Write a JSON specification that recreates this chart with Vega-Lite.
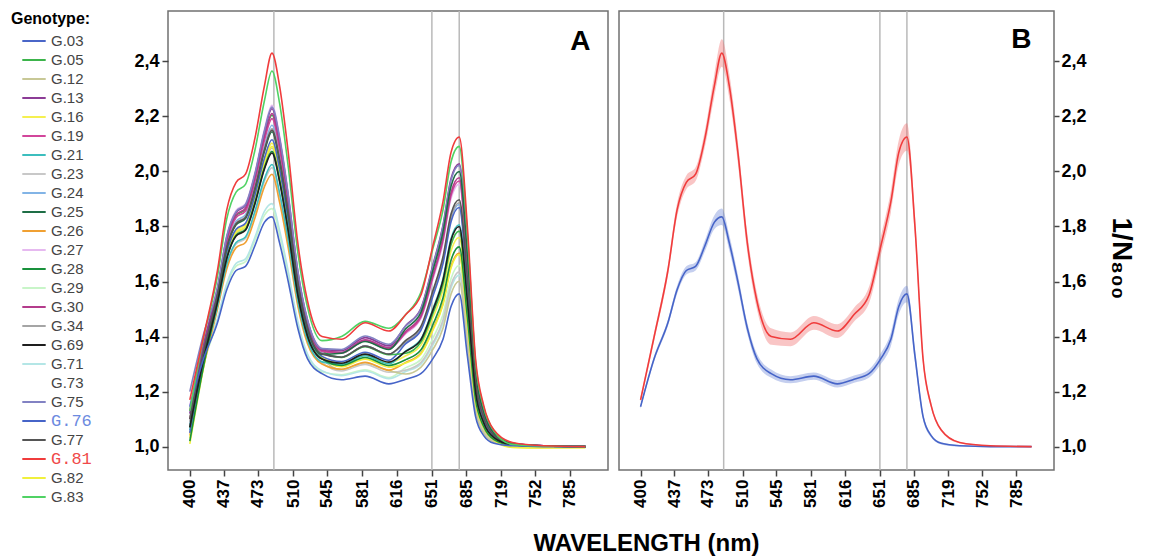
{
"$schema": "https://vega.github.io/schema/vega-lite/v6.json",
"background": "white",
"padding": {"left": 11, "top": 9, "right": 5, "bottom": 5},
"config": {
  "font": "Liberation Sans",
  "view": {"stroke": "#707070", "strokeWidth": 1.5},
  "axis": {"grid": false, "domain": false, "labelFont": "Liberation Sans", "labelFontWeight": "bold", "labelColor": "#000", "tickColor": "#444", "tickWidth": 1.5, "tickSize": 6, "labelPadding": 3, "titleFont": "Liberation Sans", "labelOverlap": false},
  "axisX": {"labelFontSize": 17},
  "axisY": {"labelFontSize": 18},
  "legend": {"titleFont": "Liberation Sans", "labelFont": "Liberation Sans"}
},
"datasets": {
  "refs": [{"wl": 490}, {"wl": 651}, {"wl": 678}],
  "spectra": [
{"g":"G.29","wl":400,"v":1.10},{"g":"G.29","wl":415,"v":1.30},{"g":"G.29","wl":430,"v":1.46},{"g":"G.29","wl":440,"v":1.585},{"g":"G.29","wl":450,"v":1.656},{"g":"G.29","wl":460,"v":1.672},{"g":"G.29","wl":470,"v":1.75},{"g":"G.29","wl":480,"v":1.84},{"g":"G.29","wl":488,"v":1.865},{"g":"G.29","wl":496,"v":1.769},{"g":"G.29","wl":505,"v":1.624},{"g":"G.29","wl":515,"v":1.446},{"g":"G.29","wl":525,"v":1.331},{"g":"G.29","wl":540,"v":1.272},{"g":"G.29","wl":560,"v":1.261},{"g":"G.29","wl":584,"v":1.279},{"g":"G.29","wl":608,"v":1.251},{"g":"G.29","wl":625,"v":1.287},{"g":"G.29","wl":640,"v":1.316},{"g":"G.29","wl":652,"v":1.394},{"g":"G.29","wl":662,"v":1.48},{"g":"G.29","wl":670,"v":1.611},{"g":"G.29","wl":678,"v":1.658},{"g":"G.29","wl":686,"v":1.415},{"g":"G.29","wl":694,"v":1.148},{"g":"G.29","wl":702,"v":1.06},{"g":"G.29","wl":712,"v":1.021},{"g":"G.29","wl":730,"v":1.004},{"g":"G.29","wl":760,"v":1.001},{"g":"G.29","wl":800,"v":1.0},
{"g":"G.71","wl":400,"v":1.12},{"g":"G.71","wl":415,"v":1.313},{"g":"G.71","wl":430,"v":1.465},{"g":"G.71","wl":440,"v":1.593},{"g":"G.71","wl":450,"v":1.666},{"g":"G.71","wl":460,"v":1.682},{"g":"G.71","wl":470,"v":1.761},{"g":"G.71","wl":480,"v":1.855},{"g":"G.71","wl":488,"v":1.883},{"g":"G.71","wl":496,"v":1.786},{"g":"G.71","wl":505,"v":1.638},{"g":"G.71","wl":515,"v":1.455},{"g":"G.71","wl":525,"v":1.337},{"g":"G.71","wl":540,"v":1.276},{"g":"G.71","wl":560,"v":1.258},{"g":"G.71","wl":584,"v":1.275},{"g":"G.71","wl":608,"v":1.247},{"g":"G.71","wl":625,"v":1.273},{"g":"G.71","wl":640,"v":1.299},{"g":"G.71","wl":652,"v":1.369},{"g":"G.71","wl":662,"v":1.45},{"g":"G.71","wl":670,"v":1.577},{"g":"G.71","wl":678,"v":1.623},{"g":"G.71","wl":686,"v":1.386},{"g":"G.71","wl":694,"v":1.135},{"g":"G.71","wl":702,"v":1.053},{"g":"G.71","wl":712,"v":1.018},{"g":"G.71","wl":730,"v":1.004},{"g":"G.71","wl":760,"v":1.001},{"g":"G.71","wl":800,"v":1.0},
{"g":"G.23","wl":400,"v":1.05},{"g":"G.23","wl":415,"v":1.299},{"g":"G.23","wl":430,"v":1.507},{"g":"G.23","wl":440,"v":1.657},{"g":"G.23","wl":450,"v":1.736},{"g":"G.23","wl":460,"v":1.756},{"g":"G.23","wl":470,"v":1.847},{"g":"G.23","wl":480,"v":1.964},{"g":"G.23","wl":488,"v":2.014},{"g":"G.23","wl":496,"v":1.911},{"g":"G.23","wl":505,"v":1.741},{"g":"G.23","wl":515,"v":1.523},{"g":"G.23","wl":525,"v":1.383},{"g":"G.23","wl":540,"v":1.306},{"g":"G.23","wl":560,"v":1.275},{"g":"G.23","wl":584,"v":1.299},{"g":"G.23","wl":608,"v":1.27},{"g":"G.23","wl":625,"v":1.278},{"g":"G.23","wl":640,"v":1.305},{"g":"G.23","wl":652,"v":1.377},{"g":"G.23","wl":662,"v":1.46},{"g":"G.23","wl":670,"v":1.588},{"g":"G.23","wl":678,"v":1.635},{"g":"G.23","wl":686,"v":1.396},{"g":"G.23","wl":694,"v":1.139},{"g":"G.23","wl":702,"v":1.055},{"g":"G.23","wl":712,"v":1.019},{"g":"G.23","wl":730,"v":1.004},{"g":"G.23","wl":760,"v":1.001},{"g":"G.23","wl":800,"v":1.0},
{"g":"G.12","wl":400,"v":1.08},{"g":"G.12","wl":415,"v":1.325},{"g":"G.12","wl":430,"v":1.53},{"g":"G.12","wl":440,"v":1.692},{"g":"G.12","wl":450,"v":1.774},{"g":"G.12","wl":460,"v":1.796},{"g":"G.12","wl":470,"v":1.894},{"g":"G.12","wl":480,"v":2.023},{"g":"G.12","wl":488,"v":2.085},{"g":"G.12","wl":496,"v":1.979},{"g":"G.12","wl":505,"v":1.797},{"g":"G.12","wl":515,"v":1.56},{"g":"G.12","wl":525,"v":1.408},{"g":"G.12","wl":540,"v":1.322},{"g":"G.12","wl":560,"v":1.28},{"g":"G.12","wl":584,"v":1.305},{"g":"G.12","wl":608,"v":1.276},{"g":"G.12","wl":625,"v":1.264},{"g":"G.12","wl":640,"v":1.288},{"g":"G.12","wl":652,"v":1.353},{"g":"G.12","wl":662,"v":1.43},{"g":"G.12","wl":670,"v":1.555},{"g":"G.12","wl":678,"v":1.601},{"g":"G.12","wl":686,"v":1.368},{"g":"G.12","wl":694,"v":1.127},{"g":"G.12","wl":702,"v":1.049},{"g":"G.12","wl":712,"v":1.016},{"g":"G.12","wl":730,"v":1.004},{"g":"G.12","wl":760,"v":1.001},{"g":"G.12","wl":800,"v":1.0},
{"g":"G.27","wl":400,"v":1.15},{"g":"G.27","wl":415,"v":1.383},{"g":"G.27","wl":430,"v":1.579},{"g":"G.27","wl":440,"v":1.767},{"g":"G.27","wl":450,"v":1.858},{"g":"G.27","wl":460,"v":1.883},{"g":"G.27","wl":470,"v":1.995},{"g":"G.27","wl":480,"v":2.152},{"g":"G.27","wl":488,"v":2.24},{"g":"G.27","wl":496,"v":2.128},{"g":"G.27","wl":505,"v":1.92},{"g":"G.27","wl":515,"v":1.641},{"g":"G.27","wl":525,"v":1.463},{"g":"G.27","wl":540,"v":1.357},{"g":"G.27","wl":560,"v":1.343},{"g":"G.27","wl":584,"v":1.388},{"g":"G.27","wl":608,"v":1.359},{"g":"G.27","wl":625,"v":1.41},{"g":"G.27","wl":640,"v":1.465},{"g":"G.27","wl":652,"v":1.607},{"g":"G.27","wl":662,"v":1.74},{"g":"G.27","wl":670,"v":1.902},{"g":"G.27","wl":678,"v":1.954},{"g":"G.27","wl":686,"v":1.659},{"g":"G.27","wl":694,"v":1.257},{"g":"G.27","wl":702,"v":1.117},{"g":"G.27","wl":712,"v":1.046},{"g":"G.27","wl":730,"v":1.01},{"g":"G.27","wl":760,"v":1.003},{"g":"G.27","wl":800,"v":1.0},
{"g":"G.24","wl":400,"v":1.08},{"g":"G.24","wl":415,"v":1.338},{"g":"G.24","wl":430,"v":1.556},{"g":"G.24","wl":440,"v":1.732},{"g":"G.24","wl":450,"v":1.819},{"g":"G.24","wl":460,"v":1.843},{"g":"G.24","wl":470,"v":1.948},{"g":"G.24","wl":480,"v":2.092},{"g":"G.24","wl":488,"v":2.168},{"g":"G.24","wl":496,"v":2.059},{"g":"G.24","wl":505,"v":1.863},{"g":"G.24","wl":515,"v":1.604},{"g":"G.24","wl":525,"v":1.438},{"g":"G.24","wl":540,"v":1.341},{"g":"G.24","wl":560,"v":1.325},{"g":"G.24","wl":584,"v":1.365},{"g":"G.24","wl":608,"v":1.336},{"g":"G.24","wl":625,"v":1.379},{"g":"G.24","wl":640,"v":1.428},{"g":"G.24","wl":652,"v":1.554},{"g":"G.24","wl":662,"v":1.675},{"g":"G.24","wl":670,"v":1.829},{"g":"G.24","wl":678,"v":1.88},{"g":"G.24","wl":686,"v":1.598},{"g":"G.24","wl":694,"v":1.23},{"g":"G.24","wl":702,"v":1.103},{"g":"G.24","wl":712,"v":1.039},{"g":"G.24","wl":730,"v":1.008},{"g":"G.24","wl":760,"v":1.002},{"g":"G.24","wl":800,"v":1.0},
{"g":"G.26","wl":400,"v":1.04},{"g":"G.26","wl":415,"v":1.29},{"g":"G.26","wl":430,"v":1.499},{"g":"G.26","wl":440,"v":1.645},{"g":"G.26","wl":450,"v":1.723},{"g":"G.26","wl":460,"v":1.742},{"g":"G.26","wl":470,"v":1.831},{"g":"G.26","wl":480,"v":1.944},{"g":"G.26","wl":488,"v":1.99},{"g":"G.26","wl":496,"v":1.888},{"g":"G.26","wl":505,"v":1.722},{"g":"G.26","wl":515,"v":1.511},{"g":"G.26","wl":525,"v":1.375},{"g":"G.26","wl":540,"v":1.30},{"g":"G.26","wl":560,"v":1.281},{"g":"G.26","wl":584,"v":1.306},{"g":"G.26","wl":608,"v":1.278},{"g":"G.26","wl":625,"v":1.306},{"g":"G.26","wl":640,"v":1.339},{"g":"G.26","wl":652,"v":1.427},{"g":"G.26","wl":662,"v":1.52},{"g":"G.26","wl":670,"v":1.656},{"g":"G.26","wl":678,"v":1.703},{"g":"G.26","wl":686,"v":1.452},{"g":"G.26","wl":694,"v":1.165},{"g":"G.26","wl":702,"v":1.069},{"g":"G.26","wl":712,"v":1.025},{"g":"G.26","wl":730,"v":1.006},{"g":"G.26","wl":760,"v":1.002},{"g":"G.26","wl":800,"v":1.0},
{"g":"G.16","wl":400,"v":1.03},{"g":"G.16","wl":415,"v":1.303},{"g":"G.16","wl":430,"v":1.536},{"g":"G.16","wl":440,"v":1.70},{"g":"G.16","wl":450,"v":1.784},{"g":"G.16","wl":460,"v":1.806},{"g":"G.16","wl":470,"v":1.906},{"g":"G.16","wl":480,"v":2.038},{"g":"G.16","wl":488,"v":2.103},{"g":"G.16","wl":496,"v":1.997},{"g":"G.16","wl":505,"v":1.812},{"g":"G.16","wl":515,"v":1.57},{"g":"G.16","wl":525,"v":1.415},{"g":"G.16","wl":540,"v":1.326},{"g":"G.16","wl":560,"v":1.302},{"g":"G.16","wl":584,"v":1.334},{"g":"G.16","wl":608,"v":1.305},{"g":"G.16","wl":625,"v":1.33},{"g":"G.16","wl":640,"v":1.368},{"g":"G.16","wl":652,"v":1.468},{"g":"G.16","wl":662,"v":1.57},{"g":"G.16","wl":670,"v":1.712},{"g":"G.16","wl":678,"v":1.76},{"g":"G.16","wl":686,"v":1.499},{"g":"G.16","wl":694,"v":1.186},{"g":"G.16","wl":702,"v":1.08},{"g":"G.16","wl":712,"v":1.029},{"g":"G.16","wl":730,"v":0.998},{"g":"G.16","wl":760,"v":0.996},{"g":"G.16","wl":800,"v":0.997},
{"g":"G.82","wl":400,"v":1.01},{"g":"G.82","wl":415,"v":1.288},{"g":"G.82","wl":430,"v":1.532},{"g":"G.82","wl":440,"v":1.695},{"g":"G.82","wl":450,"v":1.778},{"g":"G.82","wl":460,"v":1.799},{"g":"G.82","wl":470,"v":1.898},{"g":"G.82","wl":480,"v":2.028},{"g":"G.82","wl":488,"v":2.091},{"g":"G.82","wl":496,"v":1.985},{"g":"G.82","wl":505,"v":1.802},{"g":"G.82","wl":515,"v":1.563},{"g":"G.82","wl":525,"v":1.41},{"g":"G.82","wl":540,"v":1.323},{"g":"G.82","wl":560,"v":1.29},{"g":"G.82","wl":584,"v":1.318},{"g":"G.82","wl":608,"v":1.289},{"g":"G.82","wl":625,"v":1.304},{"g":"G.82","wl":640,"v":1.336},{"g":"G.82","wl":652,"v":1.423},{"g":"G.82","wl":662,"v":1.515},{"g":"G.82","wl":670,"v":1.65},{"g":"G.82","wl":678,"v":1.698},{"g":"G.82","wl":686,"v":1.448},{"g":"G.82","wl":694,"v":1.163},{"g":"G.82","wl":702,"v":1.068},{"g":"G.82","wl":712,"v":1.024},{"g":"G.82","wl":730,"v":0.997},{"g":"G.82","wl":760,"v":0.995},{"g":"G.82","wl":800,"v":0.996},
{"g":"G.21","wl":400,"v":1.06},{"g":"G.21","wl":415,"v":1.306},{"g":"G.21","wl":430,"v":1.511},{"g":"G.21","wl":440,"v":1.663},{"g":"G.21","wl":450,"v":1.742},{"g":"G.21","wl":460,"v":1.762},{"g":"G.21","wl":470,"v":1.855},{"g":"G.21","wl":480,"v":1.973},{"g":"G.21","wl":488,"v":2.025},{"g":"G.21","wl":496,"v":1.922},{"g":"G.21","wl":505,"v":1.75},{"g":"G.21","wl":515,"v":1.529},{"g":"G.21","wl":525,"v":1.387},{"g":"G.21","wl":540,"v":1.308},{"g":"G.21","wl":560,"v":1.299},{"g":"G.21","wl":584,"v":1.33},{"g":"G.21","wl":608,"v":1.301},{"g":"G.21","wl":625,"v":1.348},{"g":"G.21","wl":640,"v":1.39},{"g":"G.21","wl":652,"v":1.50},{"g":"G.21","wl":662,"v":1.61},{"g":"G.21","wl":670,"v":1.756},{"g":"G.21","wl":678,"v":1.806},{"g":"G.21","wl":686,"v":1.537},{"g":"G.21","wl":694,"v":1.202},{"g":"G.21","wl":702,"v":1.088},{"g":"G.21","wl":712,"v":1.033},{"g":"G.21","wl":730,"v":1.007},{"g":"G.21","wl":760,"v":1.002},{"g":"G.21","wl":800,"v":1.0},
{"g":"G.34","wl":400,"v":1.09},{"g":"G.34","wl":415,"v":1.342},{"g":"G.34","wl":430,"v":1.553},{"g":"G.34","wl":440,"v":1.727},{"g":"G.34","wl":450,"v":1.813},{"g":"G.34","wl":460,"v":1.836},{"g":"G.34","wl":470,"v":1.941},{"g":"G.34","wl":480,"v":2.082},{"g":"G.34","wl":488,"v":2.156},{"g":"G.34","wl":496,"v":2.048},{"g":"G.34","wl":505,"v":1.854},{"g":"G.34","wl":515,"v":1.597},{"g":"G.34","wl":525,"v":1.433},{"g":"G.34","wl":540,"v":1.338},{"g":"G.34","wl":560,"v":1.325},{"g":"G.34","wl":584,"v":1.365},{"g":"G.34","wl":608,"v":1.336},{"g":"G.34","wl":625,"v":1.381},{"g":"G.34","wl":640,"v":1.43},{"g":"G.34","wl":652,"v":1.558},{"g":"G.34","wl":662,"v":1.68},{"g":"G.34","wl":670,"v":1.835},{"g":"G.34","wl":678,"v":1.886},{"g":"G.34","wl":686,"v":1.603},{"g":"G.34","wl":694,"v":1.232},{"g":"G.34","wl":702,"v":1.104},{"g":"G.34","wl":712,"v":1.04},{"g":"G.34","wl":730,"v":1.008},{"g":"G.34","wl":760,"v":1.002},{"g":"G.34","wl":800,"v":1.0},
{"g":"G.03","wl":400,"v":1.05},{"g":"G.03","wl":415,"v":1.315},{"g":"G.03","wl":430,"v":1.539},{"g":"G.03","wl":440,"v":1.706},{"g":"G.03","wl":450,"v":1.79},{"g":"G.03","wl":460,"v":1.812},{"g":"G.03","wl":470,"v":1.913},{"g":"G.03","wl":480,"v":2.048},{"g":"G.03","wl":488,"v":2.115},{"g":"G.03","wl":496,"v":2.008},{"g":"G.03","wl":505,"v":1.821},{"g":"G.03","wl":515,"v":1.576},{"g":"G.03","wl":525,"v":1.419},{"g":"G.03","wl":540,"v":1.328},{"g":"G.03","wl":560,"v":1.309},{"g":"G.03","wl":584,"v":1.343},{"g":"G.03","wl":608,"v":1.314},{"g":"G.03","wl":625,"v":1.374},{"g":"G.03","wl":640,"v":1.422},{"g":"G.03","wl":652,"v":1.546},{"g":"G.03","wl":662,"v":1.665},{"g":"G.03","wl":670,"v":1.818},{"g":"G.03","wl":678,"v":1.869},{"g":"G.03","wl":686,"v":1.589},{"g":"G.03","wl":694,"v":1.226},{"g":"G.03","wl":702,"v":1.101},{"g":"G.03","wl":712,"v":1.038},{"g":"G.03","wl":730,"v":1.009},{"g":"G.03","wl":760,"v":1.002},{"g":"G.03","wl":800,"v":1.0},
{"g":"G.28","wl":400,"v":1.02},{"g":"G.28","wl":415,"v":1.293},{"g":"G.28","wl":430,"v":1.526},{"g":"G.28","wl":440,"v":1.686},{"g":"G.28","wl":450,"v":1.768},{"g":"G.28","wl":460,"v":1.789},{"g":"G.28","wl":470,"v":1.886},{"g":"G.28","wl":480,"v":2.013},{"g":"G.28","wl":488,"v":2.073},{"g":"G.28","wl":496,"v":1.968},{"g":"G.28","wl":505,"v":1.788},{"g":"G.28","wl":515,"v":1.554},{"g":"G.28","wl":525,"v":1.404},{"g":"G.28","wl":540,"v":1.319},{"g":"G.28","wl":560,"v":1.295},{"g":"G.28","wl":584,"v":1.324},{"g":"G.28","wl":608,"v":1.295},{"g":"G.28","wl":625,"v":1.316},{"g":"G.28","wl":640,"v":1.351},{"g":"G.28","wl":652,"v":1.443},{"g":"G.28","wl":662,"v":1.54},{"g":"G.28","wl":670,"v":1.678},{"g":"G.28","wl":678,"v":1.726},{"g":"G.28","wl":686,"v":1.471},{"g":"G.28","wl":694,"v":1.173},{"g":"G.28","wl":702,"v":1.073},{"g":"G.28","wl":712,"v":1.026},{"g":"G.28","wl":730,"v":1.006},{"g":"G.28","wl":760,"v":1.002},{"g":"G.28","wl":800,"v":1.0},
{"g":"G.05","wl":400,"v":1.10},{"g":"G.05","wl":415,"v":1.354},{"g":"G.05","wl":430,"v":1.568},{"g":"G.05","wl":440,"v":1.75},{"g":"G.05","wl":450,"v":1.838},{"g":"G.05","wl":460,"v":1.863},{"g":"G.05","wl":470,"v":1.972},{"g":"G.05","wl":480,"v":2.122},{"g":"G.05","wl":488,"v":2.204},{"g":"G.05","wl":496,"v":2.093},{"g":"G.05","wl":505,"v":1.891},{"g":"G.05","wl":515,"v":1.622},{"g":"G.05","wl":525,"v":1.45},{"g":"G.05","wl":540,"v":1.349},{"g":"G.05","wl":560,"v":1.324},{"g":"G.05","wl":584,"v":1.363},{"g":"G.05","wl":608,"v":1.334},{"g":"G.05","wl":625,"v":1.339},{"g":"G.05","wl":640,"v":1.379},{"g":"G.05","wl":652,"v":1.484},{"g":"G.05","wl":662,"v":1.59},{"g":"G.05","wl":670,"v":1.734},{"g":"G.05","wl":678,"v":1.783},{"g":"G.05","wl":686,"v":1.518},{"g":"G.05","wl":694,"v":1.194},{"g":"G.05","wl":702,"v":1.084},{"g":"G.05","wl":712,"v":1.031},{"g":"G.05","wl":730,"v":1.007},{"g":"G.05","wl":760,"v":1.002},{"g":"G.05","wl":800,"v":1.0},
{"g":"G.19","wl":400,"v":1.10},{"g":"G.19","wl":415,"v":1.352},{"g":"G.19","wl":430,"v":1.564},{"g":"G.19","wl":440,"v":1.744},{"g":"G.19","wl":450,"v":1.832},{"g":"G.19","wl":460,"v":1.856},{"g":"G.19","wl":470,"v":1.964},{"g":"G.19","wl":480,"v":2.112},{"g":"G.19","wl":488,"v":2.192},{"g":"G.19","wl":496,"v":2.082},{"g":"G.19","wl":505,"v":1.882},{"g":"G.19","wl":515,"v":1.616},{"g":"G.19","wl":525,"v":1.446},{"g":"G.19","wl":540,"v":1.346},{"g":"G.19","wl":560,"v":1.34},{"g":"G.19","wl":584,"v":1.384},{"g":"G.19","wl":608,"v":1.355},{"g":"G.19","wl":625,"v":1.414},{"g":"G.19","wl":640,"v":1.47},{"g":"G.19","wl":652,"v":1.615},{"g":"G.19","wl":662,"v":1.75},{"g":"G.19","wl":670,"v":1.913},{"g":"G.19","wl":678,"v":1.965},{"g":"G.19","wl":686,"v":1.668},{"g":"G.19","wl":694,"v":1.261},{"g":"G.19","wl":702,"v":1.119},{"g":"G.19","wl":712,"v":1.047},{"g":"G.19","wl":730,"v":1.01},{"g":"G.19","wl":760,"v":1.003},{"g":"G.19","wl":800,"v":1.0},
{"g":"G.30","wl":400,"v":1.13},{"g":"G.30","wl":415,"v":1.37},{"g":"G.30","wl":430,"v":1.57},{"g":"G.30","wl":440,"v":1.753},{"g":"G.30","wl":450,"v":1.842},{"g":"G.30","wl":460,"v":1.866},{"g":"G.30","wl":470,"v":1.976},{"g":"G.30","wl":480,"v":2.127},{"g":"G.30","wl":488,"v":2.21},{"g":"G.30","wl":496,"v":2.099},{"g":"G.30","wl":505,"v":1.896},{"g":"G.30","wl":515,"v":1.625},{"g":"G.30","wl":525,"v":1.452},{"g":"G.30","wl":540,"v":1.35},{"g":"G.30","wl":560,"v":1.343},{"g":"G.30","wl":584,"v":1.388},{"g":"G.30","wl":608,"v":1.359},{"g":"G.30","wl":625,"v":1.419},{"g":"G.30","wl":640,"v":1.476},{"g":"G.30","wl":652,"v":1.623},{"g":"G.30","wl":662,"v":1.76},{"g":"G.30","wl":670,"v":1.924},{"g":"G.30","wl":678,"v":1.977},{"g":"G.30","wl":686,"v":1.678},{"g":"G.30","wl":694,"v":1.265},{"g":"G.30","wl":702,"v":1.121},{"g":"G.30","wl":712,"v":1.048},{"g":"G.30","wl":730,"v":1.01},{"g":"G.30","wl":760,"v":1.003},{"g":"G.30","wl":800,"v":1.0},
{"g":"G.13","wl":400,"v":1.12},{"g":"G.13","wl":415,"v":1.368},{"g":"G.13","wl":430,"v":1.575},{"g":"G.13","wl":440,"v":1.761},{"g":"G.13","wl":450,"v":1.851},{"g":"G.13","wl":460,"v":1.876},{"g":"G.13","wl":470,"v":1.987},{"g":"G.13","wl":480,"v":2.142},{"g":"G.13","wl":488,"v":2.228},{"g":"G.13","wl":496,"v":2.116},{"g":"G.13","wl":505,"v":1.91},{"g":"G.13","wl":515,"v":1.635},{"g":"G.13","wl":525,"v":1.459},{"g":"G.13","wl":540,"v":1.354},{"g":"G.13","wl":560,"v":1.349},{"g":"G.13","wl":584,"v":1.396},{"g":"G.13","wl":608,"v":1.366},{"g":"G.13","wl":625,"v":1.44},{"g":"G.13","wl":640,"v":1.502},{"g":"G.13","wl":652,"v":1.66},{"g":"G.13","wl":662,"v":1.805},{"g":"G.13","wl":670,"v":1.975},{"g":"G.13","wl":678,"v":2.028},{"g":"G.13","wl":686,"v":1.72},{"g":"G.13","wl":694,"v":1.284},{"g":"G.13","wl":702,"v":1.131},{"g":"G.13","wl":712,"v":1.052},{"g":"G.13","wl":730,"v":1.012},{"g":"G.13","wl":760,"v":1.003},{"g":"G.13","wl":800,"v":1.0},
{"g":"G.75","wl":400,"v":1.20},{"g":"G.75","wl":415,"v":1.409},{"g":"G.75","wl":430,"v":1.577},{"g":"G.75","wl":440,"v":1.764},{"g":"G.75","wl":450,"v":1.854},{"g":"G.75","wl":460,"v":1.88},{"g":"G.75","wl":470,"v":1.991},{"g":"G.75","wl":480,"v":2.147},{"g":"G.75","wl":488,"v":2.234},{"g":"G.75","wl":496,"v":2.122},{"g":"G.75","wl":505,"v":1.915},{"g":"G.75","wl":515,"v":1.638},{"g":"G.75","wl":525,"v":1.461},{"g":"G.75","wl":540,"v":1.356},{"g":"G.75","wl":560,"v":1.353},{"g":"G.75","wl":584,"v":1.402},{"g":"G.75","wl":608,"v":1.372},{"g":"G.75","wl":625,"v":1.438},{"g":"G.75","wl":640,"v":1.499},{"g":"G.75","wl":652,"v":1.656},{"g":"G.75","wl":662,"v":1.80},{"g":"G.75","wl":670,"v":1.969},{"g":"G.75","wl":678,"v":2.022},{"g":"G.75","wl":686,"v":1.715},{"g":"G.75","wl":694,"v":1.282},{"g":"G.75","wl":702,"v":1.13},{"g":"G.75","wl":712,"v":1.051},{"g":"G.75","wl":730,"v":1.012},{"g":"G.75","wl":760,"v":1.003},{"g":"G.75","wl":800,"v":1.0},
{"g":"G.25","wl":400,"v":1.07},{"g":"G.25","wl":415,"v":1.33},{"g":"G.25","wl":430,"v":1.549},{"g":"G.25","wl":440,"v":1.721},{"g":"G.25","wl":450,"v":1.806},{"g":"G.25","wl":460,"v":1.829},{"g":"G.25","wl":470,"v":1.933},{"g":"G.25","wl":480,"v":2.072},{"g":"G.25","wl":488,"v":2.144},{"g":"G.25","wl":496,"v":2.036},{"g":"G.25","wl":505,"v":1.844},{"g":"G.25","wl":515,"v":1.591},{"g":"G.25","wl":525,"v":1.429},{"g":"G.25","wl":540,"v":1.335},{"g":"G.25","wl":560,"v":1.339},{"g":"G.25","wl":584,"v":1.382},{"g":"G.25","wl":608,"v":1.353},{"g":"G.25","wl":625,"v":1.428},{"g":"G.25","wl":640,"v":1.487},{"g":"G.25","wl":652,"v":1.64},{"g":"G.25","wl":662,"v":1.78},{"g":"G.25","wl":670,"v":1.947},{"g":"G.25","wl":678,"v":2.0},{"g":"G.25","wl":686,"v":1.697},{"g":"G.25","wl":694,"v":1.274},{"g":"G.25","wl":702,"v":1.126},{"g":"G.25","wl":712,"v":1.049},{"g":"G.25","wl":730,"v":1.011},{"g":"G.25","wl":760,"v":1.003},{"g":"G.25","wl":800,"v":1.0},
{"g":"G.77","wl":400,"v":1.10},{"g":"G.77","wl":415,"v":1.346},{"g":"G.77","wl":430,"v":1.551},{"g":"G.77","wl":440,"v":1.724},{"g":"G.77","wl":450,"v":1.81},{"g":"G.77","wl":460,"v":1.833},{"g":"G.77","wl":470,"v":1.937},{"g":"G.77","wl":480,"v":2.077},{"g":"G.77","wl":488,"v":2.15},{"g":"G.77","wl":496,"v":2.042},{"g":"G.77","wl":505,"v":1.849},{"g":"G.77","wl":515,"v":1.594},{"g":"G.77","wl":525,"v":1.431},{"g":"G.77","wl":540,"v":1.337},{"g":"G.77","wl":560,"v":1.325},{"g":"G.77","wl":584,"v":1.365},{"g":"G.77","wl":608,"v":1.336},{"g":"G.77","wl":625,"v":1.386},{"g":"G.77","wl":640,"v":1.436},{"g":"G.77","wl":652,"v":1.566},{"g":"G.77","wl":662,"v":1.69},{"g":"G.77","wl":670,"v":1.846},{"g":"G.77","wl":678,"v":1.897},{"g":"G.77","wl":686,"v":1.612},{"g":"G.77","wl":694,"v":1.236},{"g":"G.77","wl":702,"v":1.106},{"g":"G.77","wl":712,"v":1.041},{"g":"G.77","wl":730,"v":1.008},{"g":"G.77","wl":760,"v":1.002},{"g":"G.77","wl":800,"v":1.0},
{"g":"G.69","wl":400,"v":1.07},{"g":"G.69","wl":415,"v":1.317},{"g":"G.69","wl":430,"v":1.524},{"g":"G.69","wl":440,"v":1.683},{"g":"G.69","wl":450,"v":1.765},{"g":"G.69","wl":460,"v":1.786},{"g":"G.69","wl":470,"v":1.882},{"g":"G.69","wl":480,"v":2.008},{"g":"G.69","wl":488,"v":2.067},{"g":"G.69","wl":496,"v":1.962},{"g":"G.69","wl":505,"v":1.783},{"g":"G.69","wl":515,"v":1.551},{"g":"G.69","wl":525,"v":1.402},{"g":"G.69","wl":540,"v":1.318},{"g":"G.69","wl":560,"v":1.303},{"g":"G.69","wl":584,"v":1.336},{"g":"G.69","wl":608,"v":1.307},{"g":"G.69","wl":625,"v":1.346},{"g":"G.69","wl":640,"v":1.388},{"g":"G.69","wl":652,"v":1.496},{"g":"G.69","wl":662,"v":1.605},{"g":"G.69","wl":670,"v":1.751},{"g":"G.69","wl":678,"v":1.80},{"g":"G.69","wl":686,"v":1.532},{"g":"G.69","wl":694,"v":1.20},{"g":"G.69","wl":702,"v":1.087},{"g":"G.69","wl":712,"v":1.033},{"g":"G.69","wl":730,"v":1.007},{"g":"G.69","wl":760,"v":1.002},{"g":"G.69","wl":800,"v":1.0},
{"g":"G.76","wl":400,"v":1.145,"lo":1.137,"hi":1.153},{"g":"G.76","wl":415,"v":1.32,"lo":1.31,"hi":1.33},{"g":"G.76","wl":430,"v":1.45,"lo":1.438,"hi":1.462},{"g":"G.76","wl":440,"v":1.57,"lo":1.555,"hi":1.585},{"g":"G.76","wl":450,"v":1.64,"lo":1.625,"hi":1.655},{"g":"G.76","wl":460,"v":1.655,"lo":1.64,"hi":1.67},{"g":"G.76","wl":470,"v":1.73,"lo":1.71,"hi":1.75},{"g":"G.76","wl":480,"v":1.815,"lo":1.79,"hi":1.84},{"g":"G.76","wl":488,"v":1.835,"lo":1.805,"hi":1.865},{"g":"G.76","wl":496,"v":1.74,"lo":1.712,"hi":1.768},{"g":"G.76","wl":505,"v":1.60,"lo":1.575,"hi":1.625},{"g":"G.76","wl":515,"v":1.43,"lo":1.41,"hi":1.45},{"g":"G.76","wl":525,"v":1.32,"lo":1.302,"hi":1.338},{"g":"G.76","wl":540,"v":1.265,"lo":1.25,"hi":1.28},{"g":"G.76","wl":560,"v":1.243,"lo":1.23,"hi":1.256},{"g":"G.76","wl":584,"v":1.256,"lo":1.243,"hi":1.269},{"g":"G.76","wl":608,"v":1.228,"lo":1.215,"hi":1.241},{"g":"G.76","wl":625,"v":1.245,"lo":1.232,"hi":1.258},{"g":"G.76","wl":640,"v":1.265,"lo":1.25,"hi":1.28},{"g":"G.76","wl":652,"v":1.32,"lo":1.30,"hi":1.34},{"g":"G.76","wl":662,"v":1.39,"lo":1.365,"hi":1.415},{"g":"G.76","wl":670,"v":1.51,"lo":1.482,"hi":1.538},{"g":"G.76","wl":678,"v":1.555,"lo":1.525,"hi":1.585},{"g":"G.76","wl":686,"v":1.33,"lo":1.305,"hi":1.355},{"g":"G.76","wl":694,"v":1.11,"lo":1.098,"hi":1.122},{"g":"G.76","wl":702,"v":1.04,"lo":1.034,"hi":1.046},{"g":"G.76","wl":712,"v":1.012,"lo":1.008,"hi":1.016},{"g":"G.76","wl":730,"v":1.003,"lo":1.0,"hi":1.006},{"g":"G.76","wl":760,"v":1.0,"lo":0.998,"hi":1.002},{"g":"G.76","wl":800,"v":1.0,"lo":0.998,"hi":1.002},
{"g":"G.83","wl":400,"v":1.13},{"g":"G.83","wl":415,"v":1.395},{"g":"G.83","wl":430,"v":1.619},{"g":"G.83","wl":440,"v":1.828},{"g":"G.83","wl":450,"v":1.925},{"g":"G.83","wl":460,"v":1.953},{"g":"G.83","wl":470,"v":2.077},{"g":"G.83","wl":480,"v":2.256},{"g":"G.83","wl":488,"v":2.365},{"g":"G.83","wl":496,"v":2.247},{"g":"G.83","wl":505,"v":2.018},{"g":"G.83","wl":515,"v":1.706},{"g":"G.83","wl":525,"v":1.507},{"g":"G.83","wl":540,"v":1.385},{"g":"G.83","wl":560,"v":1.40},{"g":"G.83","wl":584,"v":1.455},{"g":"G.83","wl":608,"v":1.43},{"g":"G.83","wl":625,"v":1.48},{"g":"G.83","wl":640,"v":1.56},{"g":"G.83","wl":652,"v":1.72},{"g":"G.83","wl":662,"v":1.86},{"g":"G.83","wl":670,"v":2.036},{"g":"G.83","wl":678,"v":2.091},{"g":"G.83","wl":686,"v":1.772},{"g":"G.83","wl":694,"v":1.307},{"g":"G.83","wl":702,"v":1.143},{"g":"G.83","wl":712,"v":1.057},{"g":"G.83","wl":730,"v":1.008},{"g":"G.83","wl":760,"v":1.002},{"g":"G.83","wl":800,"v":1.0},
{"g":"G.81","wl":400,"v":1.17,"lo":1.16,"hi":1.18},{"g":"G.81","wl":415,"v":1.40,"lo":1.385,"hi":1.415},{"g":"G.81","wl":430,"v":1.64,"lo":1.62,"hi":1.66},{"g":"G.81","wl":440,"v":1.86,"lo":1.835,"hi":1.885},{"g":"G.81","wl":450,"v":1.96,"lo":1.935,"hi":1.985},{"g":"G.81","wl":460,"v":1.99,"lo":1.965,"hi":2.015},{"g":"G.81","wl":470,"v":2.12,"lo":2.09,"hi":2.15},{"g":"G.81","wl":480,"v":2.31,"lo":2.27,"hi":2.35},{"g":"G.81","wl":488,"v":2.43,"lo":2.38,"hi":2.48},{"g":"G.81","wl":496,"v":2.31,"lo":2.265,"hi":2.355},{"g":"G.81","wl":505,"v":2.07,"lo":2.03,"hi":2.11},{"g":"G.81","wl":515,"v":1.74,"lo":1.705,"hi":1.775},{"g":"G.81","wl":525,"v":1.53,"lo":1.50,"hi":1.56},{"g":"G.81","wl":540,"v":1.40,"lo":1.37,"hi":1.43},{"g":"G.81","wl":560,"v":1.39,"lo":1.365,"hi":1.415},{"g":"G.81","wl":584,"v":1.45,"lo":1.425,"hi":1.475},{"g":"G.81","wl":608,"v":1.42,"lo":1.395,"hi":1.445},{"g":"G.81","wl":625,"v":1.48,"lo":1.455,"hi":1.505},{"g":"G.81","wl":640,"v":1.55,"lo":1.52,"hi":1.58},{"g":"G.81","wl":652,"v":1.73,"lo":1.695,"hi":1.765},{"g":"G.81","wl":662,"v":1.89,"lo":1.85,"hi":1.93},{"g":"G.81","wl":670,"v":2.07,"lo":2.025,"hi":2.115},{"g":"G.81","wl":678,"v":2.125,"lo":2.075,"hi":2.175},{"g":"G.81","wl":686,"v":1.80,"lo":1.76,"hi":1.84},{"g":"G.81","wl":694,"v":1.32,"lo":1.30,"hi":1.34},{"g":"G.81","wl":702,"v":1.15,"lo":1.14,"hi":1.16},{"g":"G.81","wl":712,"v":1.06,"lo":1.055,"hi":1.065},{"g":"G.81","wl":730,"v":1.015,"lo":1.012,"hi":1.018},{"g":"G.81","wl":760,"v":1.003,"lo":1.001,"hi":1.005},{"g":"G.81","wl":800,"v":1.0,"lo":0.998,"hi":1.002}
  ]
},
"spacing": 11,
"bounds": "flush",
"resolve": {"scale": {"x": "independent", "y": "independent", "color": "shared"}},
"hconcat": [
  {
    "width": 440,
    "height": 459,
    "layer": [
      {"data": {"name": "refs"}, "mark": {"type": "rule", "color": "#b9b9b9", "strokeWidth": 1.5},
       "encoding": {"x": {"field": "wl", "type": "quantitative",
           "scale": {"type": "pow", "exponent": 1.2, "domain": [376, 821.5], "nice": false, "zero": false},
           "axis": {"values": [400,437,473,510,545,581,616,651,685,719,752,785], "format": "d", "labelAngle": -90, "labelOverlap": false, "title": "WAVELENGTH (nm)", "titleFontSize": 24, "titleFontWeight": "bold", "titleColor": "#000", "titleX": 478, "titleY": 73, "titleAlign": "center", "titleBaseline": "middle"}}}},
      {"data": {"name": "spectra"},
       "mark": {"type": "line", "strokeWidth": 1.6, "interpolate": "monotone", "clip": true},
       "encoding": {
         "x": {"field": "wl", "type": "quantitative",
           "scale": {"type": "pow", "exponent": 1.2, "domain": [376, 821.5], "nice": false, "zero": false},
           "axis": {"values": [400,437,473,510,545,581,616,651,685,719,752,785], "format": "d", "labelAngle": -90, "labelOverlap": false, "title": "WAVELENGTH (nm)", "titleFontSize": 24, "titleFontWeight": "bold", "titleColor": "#000", "titleX": 478, "titleY": 73, "titleAlign": "center", "titleBaseline": "middle"}},
         "y": {"field": "v", "type": "quantitative", "scale": {"domain": [0.915, 2.583], "nice": false, "zero": false},
           "axis": {"orient": "left", "values": [1.0,1.2,1.4,1.6,1.8,2.0,2.2,2.4], "labelOverlap": false, "labelExpr": "replace(format(datum.value, '.1f'), '.', ',')", "title": null}},
         "color": {"field": "g", "type": "nominal",
           "scale": {"domain": ["G.03","G.05","G.12","G.13","G.16","G.19","G.21","G.23","G.24","G.25","G.26","G.27","G.28","G.29","G.30","G.34","G.69","G.71","G.73","G.75","G.76","G.77","G.81","G.82","G.83"],
                     "range": ["#4a66c8","#3cb44b","#c8c896","#8c3c96","#f5f050","#d2469b","#3cbebe","#c8c8c8","#82b4e6","#1e6e46","#f0a032","#e6b9f0","#19913c","#c8f5c8","#b43c8c","#a5a5a5","#1e1e1e","#b4e6e6","#ffffff","#8282c3","#4664c8","#555555","#f03c3c","#f0f03c","#50d264"]},
           "legend": {"orient": "left", "offset": 41, "title": "Genotype:", "titleFontSize": 16, "titleFontWeight": "bold", "titleColor": "#000", "titleAnchor": "start", "titlePadding": 4,
             "symbolType": "M-1.3,0H1.3", "symbolSize": 324, "symbolStrokeWidth": 2, "symbolOffset": 13,
             "labelFontSize": 15, "labelColor": "#454545", "labelOffset": 7, "rowPadding": 1,
             "encode": {"labels": {"update": {
               "fill": [{"test": "datum.value === 'G.76'", "value": "#6c8ae0"}, {"test": "datum.value === 'G.81'", "value": "#f04a4a"}, {"value": "#454545"}],
               "font": [{"test": "datum.value === 'G.76' || datum.value === 'G.81'", "value": "Liberation Mono"}, {"value": "Liberation Sans"}],
               "fontSize": [{"test": "datum.value === 'G.76' || datum.value === 'G.81'", "value": 17}, {"value": 15}]}}}}}
       }},
      {"data": {"values": [{"label": "A"}]},
       "mark": {"type": "text", "fontSize": 28, "fontWeight": "bold", "align": "right", "baseline": "middle", "color": "#000"},
       "encoding": {
         "x": {"datum": 805, "type": "quantitative",
           "scale": {"type": "pow", "exponent": 1.2, "domain": [376, 821.5], "nice": false, "zero": false},
           "axis": {"values": [400,437,473,510,545,581,616,651,685,719,752,785], "format": "d", "labelAngle": -90, "labelOverlap": false, "title": "WAVELENGTH (nm)", "titleFontSize": 24, "titleFontWeight": "bold", "titleColor": "#000", "titleX": 478, "titleY": 73, "titleAlign": "center", "titleBaseline": "middle"}},
         "y": {"datum": 2.47, "type": "quantitative"},
         "text": {"field": "label"}}}
    ]
  },
  {
    "width": 435,
    "height": 459,
    "layer": [
      {"data": {"name": "refs"}, "mark": {"type": "rule", "color": "#b9b9b9", "strokeWidth": 1.5},
       "encoding": {"x": {"field": "wl", "type": "quantitative",
           "scale": {"type": "pow", "exponent": 1.2, "domain": [376, 821.5], "nice": false, "zero": false},
           "axis": {"values": [400,437,473,510,545,581,616,651,685,719,752,785], "format": "d", "labelAngle": -90, "labelOverlap": false, "title": null}}}},
      {"data": {"name": "spectra"},
       "transform": [{"filter": {"field": "g", "oneOf": ["G.76", "G.81"]}}],
       "mark": {"type": "area", "opacity": 0.4, "interpolate": "monotone", "clip": true},
       "encoding": {
         "x": {"field": "wl", "type": "quantitative",
           "scale": {"type": "pow", "exponent": 1.2, "domain": [376, 821.5], "nice": false, "zero": false},
           "axis": {"values": [400,437,473,510,545,581,616,651,685,719,752,785], "format": "d", "labelAngle": -90, "labelOverlap": false, "title": null}},
         "y": {"field": "lo", "type": "quantitative", "scale": {"domain": [0.915, 2.583], "nice": false, "zero": false},
           "axis": {"orient": "right", "values": [1.0,1.2,1.4,1.6,1.8,2.0,2.2,2.4], "labelOverlap": false, "labelExpr": "replace(format(datum.value, '.1f'), '.', ',')", "labelPadding": 2, "tickSize": 5,
             "title": "1/N₈₀₀", "titleAngle": 90, "titleFontSize": 28, "titleFontWeight": "bold", "titleColor": "#000", "titleX": 66, "titleY": 247, "titleAlign": "center", "titleBaseline": "middle"}},
         "y2": {"field": "hi"},
         "fill": {"field": "g", "type": "nominal", "scale": {"domain": ["G.76", "G.81"], "range": ["#6e86d8", "#f06e6e"]}, "legend": null}
       }},
      {"data": {"name": "spectra"},
       "transform": [{"filter": {"field": "g", "oneOf": ["G.76", "G.81"]}}],
       "mark": {"type": "line", "strokeWidth": 1.6, "interpolate": "monotone", "clip": true},
       "encoding": {
         "x": {"field": "wl", "type": "quantitative",
           "scale": {"type": "pow", "exponent": 1.2, "domain": [376, 821.5], "nice": false, "zero": false},
           "axis": {"values": [400,437,473,510,545,581,616,651,685,719,752,785], "format": "d", "labelAngle": -90, "labelOverlap": false, "title": null}},
         "y": {"field": "v", "type": "quantitative"},
         "color": {"field": "g", "type": "nominal"}
       }},
      {"data": {"values": [{"label": "B"}]},
       "mark": {"type": "text", "fontSize": 28, "fontWeight": "bold", "align": "right", "baseline": "middle", "color": "#000"},
       "encoding": {
         "x": {"datum": 800, "type": "quantitative",
           "scale": {"type": "pow", "exponent": 1.2, "domain": [376, 821.5], "nice": false, "zero": false},
           "axis": {"values": [400,437,473,510,545,581,616,651,685,719,752,785], "format": "d", "labelAngle": -90, "labelOverlap": false, "title": null}},
         "y": {"datum": 2.478, "type": "quantitative"},
         "text": {"field": "label"}}}
    ]
  }
]
}
